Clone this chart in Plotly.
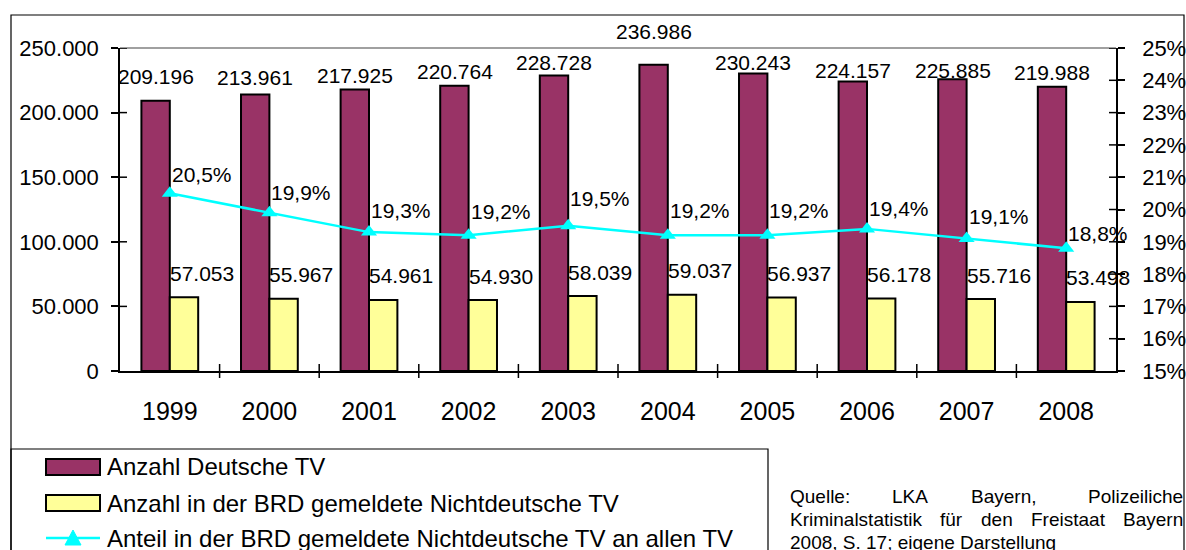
import plotly.graph_objects as go

# ---- data -------------------------------------------------------------
years = ["1999", "2000", "2001", "2002", "2003", "2004", "2005", "2006", "2007", "2008"]
deutsche_tv = [209196, 213961, 217925, 220764, 228728, 236986, 230243, 224157, 225885, 219988]
nichtdeutsche_tv = [57053, 55967, 54961, 54930, 58039, 59037, 56937, 56178, 55716, 53498]
anteil_pct = [20.5, 19.9, 19.3, 19.2, 19.5, 19.2, 19.2, 19.4, 19.1, 18.8]

count_ticks = [0, 50000, 100000, 150000, 200000, 250000]
pct_ticks = [15, 16, 17, 18, 19, 20, 21, 22, 23, 24, 25]

legend_names = [
    "Anzahl Deutsche TV",
    "Anzahl in der BRD gemeldete Nichtdeutsche TV",
    "Anteil in der BRD gemeldete Nichtdeutsche TV an allen TV",
]

# ---- style ------------------------------------------------------------
FONT = "Liberation Sans, Arial, sans-serif"
MAROON = "#993366"
YELLOW = "#FFFF99"
CYAN = "#00FFFF"
W, H = 1186, 550
ML, MR, MT, MB = 120, 70, 48, 179
PW, PH = W - ML - MR, H - MT - MB

# label lifts in pixels above each mark
lift_de = [24, 17, 14, 14, 13, 33, 11, 11, 9, 14]
lift_nd = [24] * 10
lift_pct = [19, 20, 22, 24, 27, 25, 25, 20, 22, 15]


def px(x):
    return (x - ML) / PW


def py(y):
    return (H - MB - y) / PH


def de_num(v):
    return f"{v:,}".replace(",", ".")


def de_pct(v):
    return f"{v:.1f}".replace(".", ",") + "%"


fig = go.Figure()

fig.add_trace(go.Bar(
    x=years, y=deutsche_tv, name=legend_names[0],
    marker=dict(color=MAROON, line=dict(color="black", width=2)),
    showlegend=False,
))
fig.add_trace(go.Bar(
    x=years, y=nichtdeutsche_tv, name=legend_names[1],
    marker=dict(color=YELLOW, line=dict(color="black", width=2)),
    showlegend=False,
))
fig.add_trace(go.Scatter(
    x=years, y=anteil_pct, name=legend_names[2], mode="lines+markers",
    line=dict(color=CYAN, width=2.5),
    marker=dict(symbol="triangle-up", size=14, color=CYAN),
    yaxis="y2", showlegend=False, cliponaxis=False,
))

# value labels; on a category axis annotations are placed by category index
ann = []
lab_font = dict(family=FONT, size=21, color="black")
for i in range(len(years)):
    ann.append(dict(x=i, y=deutsche_tv[i], xref="x", yref="y", text=de_num(deutsche_tv[i]),
                    showarrow=False, xshift=-14, yshift=lift_de[i], yanchor="middle", font=lab_font))
    ann.append(dict(x=i, y=nichtdeutsche_tv[i], xref="x", yref="y", text=de_num(nichtdeutsche_tv[i]),
                    showarrow=False, xshift=32, yshift=lift_nd[i], yanchor="middle", font=lab_font))
    ann.append(dict(x=i, y=anteil_pct[i], xref="x", yref="y2", text=de_pct(anteil_pct[i]),
                    showarrow=False, xshift=32, yshift=lift_pct[i], yanchor="middle", font=lab_font))

# legend entries
leg_font = dict(family=FONT, size=24, color="black")
leg_rows = [467, 503, 538]
for name, yc in zip(legend_names, leg_rows):
    ann.append(dict(x=px(105), y=py(yc), xref="paper", yref="paper", text=name, showarrow=False,
                    xanchor="left", yanchor="middle", font=leg_font))

# source note, justified block (word by word)
src_font = dict(family=FONT, size=19, color="black")
src_words = [
    ("Quelle:", 789, "left", 496), ("LKA", 910, "center", 496),
    ("Bayern,", 1003, "center", 496), ("Polizeiliche", 1184, "right", 496),
    ("Kriminalstatistik", 789, "left", 519), ("für", 951, "center", 519),
    ("den", 997, "center", 519), ("Freistaat", 1068, "center", 519),
    ("Bayern", 1184, "right", 519),
    ("2008, S. 17; eigene Darstellung", 789, "left", 542),
]
for txt, xx, anc, yy in src_words:
    ann.append(dict(x=px(xx), y=py(yy), xref="paper", yref="paper", text=txt, showarrow=False,
                    xanchor=anc, yanchor="middle", font=src_font, borderpad=0))

shapes = [
    # outer chart frame
    dict(type="rect", xref="paper", yref="paper", x0=px(11), x1=px(1184), y0=py(15), y1=py(600),
         line=dict(color="black", width=1.2), layer="below"),
    # legend box
    dict(type="rect", xref="paper", yref="paper", x0=px(11), x1=px(768), y0=py(449), y1=py(600),
         line=dict(color="black", width=1.2)),
    # plot area top border
    dict(type="line", xref="paper", yref="paper", x0=0, x1=1, y0=1, y1=1,
         line=dict(color="#808080", width=1.5)),
    # legend symbols
    dict(type="rect", xref="paper", yref="paper", x0=px(46), x1=px(100), y0=py(459), y1=py(475),
         fillcolor=MAROON, line=dict(color="black", width=2)),
    dict(type="rect", xref="paper", yref="paper", x0=px(46), x1=px(100), y0=py(495), y1=py(511),
         fillcolor=YELLOW, line=dict(color="black", width=2)),
    dict(type="line", xref="paper", yref="paper", x0=px(46), x1=px(100), y0=py(538), y1=py(538),
         line=dict(color=CYAN, width=2.5)),
    dict(type="path", xref="paper", yref="paper",
         path=f"M{px(73)},{py(530)} L{px(81)},{py(545)} L{px(65)},{py(545)} Z",
         fillcolor=CYAN, line=dict(color=CYAN, width=1)),
]
# crossing tick marks at category boundaries, and inner halves of the value ticks
tick_line = dict(color="black", width=1.5)
n = len(years)
for k in range(1, n):
    shapes.append(dict(type="line", xref="paper", yref="paper", x0=k / n, x1=k / n,
                       y0=-7 / PH, y1=7 / PH, line=tick_line))
for v in count_ticks[1:]:
    shapes.append(dict(type="line", xref="paper", yref="y", x0=0, x1=7 / PW,
                       y0=v, y1=v, line=tick_line))
for v in pct_ticks[1:]:
    shapes.append(dict(type="line", xref="paper", yref="y2", x0=1 - 7 / PW, x1=1,
                       y0=v, y1=v, line=tick_line))

tick_l = dict(family=FONT, size=22, color="black")
fig.update_layout(
    width=W, height=H,
    margin=dict(l=ML, r=MR, t=MT, b=MB, pad=0, autoexpand=False),
    paper_bgcolor="white", plot_bgcolor="white",
    barmode="group", bargap=0.43, bargroupgap=0,
    showlegend=False,
    xaxis=dict(type="category", range=[-0.5, len(years) - 0.5], ticks="",
               tickfont=dict(family=FONT, size=25, color="black"), ticklabelstandoff=17,
               tickangle=0, showline=True, linecolor="black", linewidth=1.5, showgrid=False,
               automargin=False),
    yaxis=dict(range=[count_ticks[0], count_ticks[-1]], tickmode="array", tickvals=count_ticks,
               ticktext=[de_num(v) for v in count_ticks], ticklabelstandoff=8,
               ticks="outside", ticklen=7, tickwidth=1.5, tickcolor="black",
               showline=True, linecolor="black", linewidth=1.5,
               showgrid=False, zeroline=False, tickfont=tick_l, automargin=False),
    yaxis2=dict(range=[pct_ticks[0], pct_ticks[-1]], tickmode="array", tickvals=pct_ticks,
                ticktext=[f"{v}%" for v in pct_ticks], ticklabelstandoff=13,
                overlaying="y", side="right",
                ticks="outside", ticklen=7, tickwidth=1.5, tickcolor="black", showline=True,
                linecolor="black", linewidth=1.5, showgrid=False, zeroline=False,
                tickfont=tick_l, automargin=False),
    annotations=ann,
    shapes=shapes,
)

fig.write_html("out.html")
